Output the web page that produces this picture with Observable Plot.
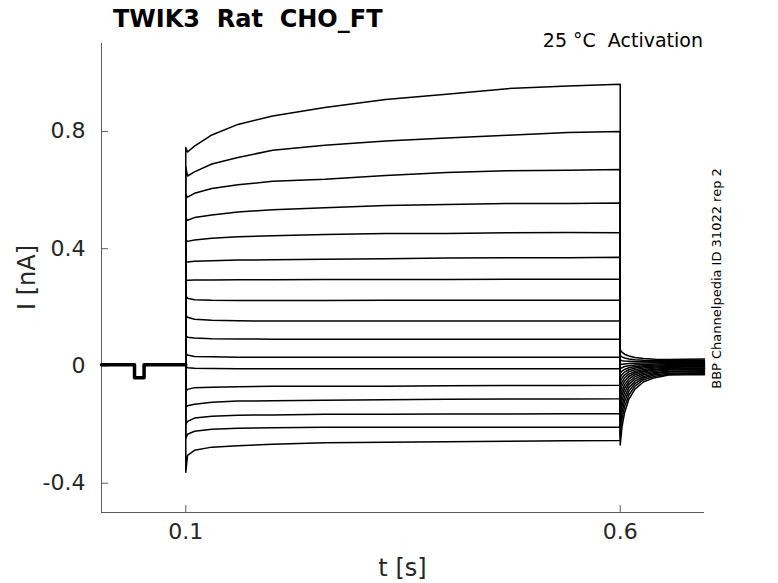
<!DOCTYPE html>
<html><head><meta charset="utf-8">
<script src="https://cdn.jsdelivr.net/npm/d3@7"></script>
<script src="https://cdn.jsdelivr.net/npm/@observablehq/plot@0.6"></script>
<style>body{margin:0;background:#fff} svg{display:block}</style>
</head><body><div id="chart"></div>
<script>
// ---- data ----
const xDomain = [0.003, 0.697];
const yDomain = [-0.5, 1.1];
const xTicks = [0.1, 0.6];
const yTicks = [-0.4, 0, 0.4, 0.8];

// holding segment before the step (shared by all sweeps)
const preT = [0.003, 0.041, 0.041, 0.052, 0.052, 0.1];
const preI = [0.004, 0.004, -0.040, -0.040, 0.004, 0.004];

// step segment sample times and currents per sweep (nA)
const stepT = [0.1, 0.102, 0.11, 0.13, 0.16, 0.2, 0.26, 0.33, 0.4, 0.47, 0.54, 0.6];
const stepI = [
  [0.745, 0.730, 0.750, 0.788, 0.824, 0.853, 0.882, 0.909, 0.927, 0.946, 0.955, 0.961],
  [0.679, 0.648, 0.662, 0.689, 0.711, 0.736, 0.753, 0.767, 0.778, 0.787, 0.796, 0.800],
  [0.585, 0.576, 0.589, 0.605, 0.618, 0.630, 0.637, 0.650, 0.660, 0.666, 0.668, 0.670],
  [0.505, 0.497, 0.506, 0.515, 0.525, 0.533, 0.540, 0.547, 0.551, 0.554, 0.554, 0.556],
  [0.430, 0.425, 0.430, 0.436, 0.441, 0.444, 0.448, 0.452, 0.452, 0.454, 0.455, 0.454],
  [0.356, 0.355, 0.357, 0.359, 0.361, 0.362, 0.364, 0.366, 0.368, 0.369, 0.369, 0.371],
  [0.292, 0.292, 0.293, 0.293, 0.294, 0.294, 0.295, 0.295, 0.295, 0.296, 0.296, 0.296],
  [0.241, 0.231, 0.226, 0.224, 0.223, 0.223, 0.223, 0.224, 0.224, 0.224, 0.224, 0.224],
  [0.173, 0.166, 0.159, 0.156, 0.154, 0.153, 0.153, 0.153, 0.153, 0.153, 0.153, 0.153],
  [0.105, 0.098, 0.095, 0.093, 0.092, 0.091, 0.091, 0.091, 0.091, 0.091, 0.091, 0.091],
  [0.043, 0.037, 0.032, 0.031, 0.030, 0.030, 0.030, 0.030, 0.030, 0.030, 0.030, 0.030],
  [-0.001, -0.006, -0.008, -0.009, -0.010, -0.010, -0.010, -0.010, -0.010, -0.010, -0.010, -0.010],
  [-0.086, -0.080, -0.074, -0.073, -0.071, -0.069, -0.069, -0.069, -0.068, -0.067, -0.067, -0.066],
  [-0.141, -0.136, -0.131, -0.124, -0.120, -0.119, -0.117, -0.115, -0.114, -0.113, -0.113, -0.112],
  [-0.199, -0.189, -0.178, -0.172, -0.168, -0.167, -0.165, -0.165, -0.164, -0.164, -0.163, -0.163],
  [-0.247, -0.233, -0.223, -0.216, -0.213, -0.211, -0.209, -0.209, -0.209, -0.209, -0.209, -0.209],
  [-0.363, -0.305, -0.288, -0.277, -0.272, -0.267, -0.262, -0.260, -0.259, -0.257, -0.255, -0.254]
];

// tail segment after the step
const tailT = [0.6, 0.602, 0.605, 0.61, 0.617, 0.627, 0.64, 0.656, 0.675, 0.697];
const tailI = [
  [-0.270, -0.209, -0.160, -0.113, -0.079, -0.054, -0.040, -0.031, -0.030, -0.030],
  [-0.235, -0.182, -0.139, -0.099, -0.069, -0.047, -0.035, -0.028, -0.027, -0.027],
  [-0.205, -0.159, -0.121, -0.086, -0.060, -0.041, -0.030, -0.025, -0.024, -0.023],
  [-0.178, -0.138, -0.105, -0.074, -0.052, -0.036, -0.026, -0.021, -0.020, -0.020],
  [-0.153, -0.118, -0.090, -0.063, -0.044, -0.030, -0.022, -0.018, -0.017, -0.016],
  [-0.130, -0.100, -0.076, -0.054, -0.037, -0.025, -0.018, -0.014, -0.013, -0.013],
  [-0.110, -0.085, -0.064, -0.045, -0.030, -0.020, -0.014, -0.011, -0.010, -0.010],
  [-0.090, -0.069, -0.052, -0.036, -0.024, -0.016, -0.011, -0.008, -0.007, -0.007],
  [-0.072, -0.055, -0.041, -0.028, -0.019, -0.012, -0.007, -0.005, -0.004, -0.004],
  [-0.055, -0.042, -0.031, -0.020, -0.013, -0.007, -0.004, -0.002, -0.001, -0.001],
  [-0.040, -0.030, -0.021, -0.013, -0.007, -0.003, 0.000, 0.001, 0.002, 0.002],
  [-0.025, -0.018, -0.012, -0.006, -0.002, 0.001, 0.003, 0.004, 0.005, 0.005],
  [-0.010, -0.006, -0.002, 0.001, 0.003, 0.005, 0.007, 0.008, 0.008, 0.008],
  [0.005, 0.006, 0.007, 0.008, 0.009, 0.010, 0.011, 0.011, 0.011, 0.011],
  [0.020, 0.018, 0.017, 0.016, 0.015, 0.014, 0.014, 0.014, 0.015, 0.015],
  [0.035, 0.031, 0.027, 0.024, 0.021, 0.019, 0.018, 0.018, 0.019, 0.019],
  [0.055, 0.047, 0.040, 0.034, 0.029, 0.025, 0.023, 0.022, 0.023, 0.024]
];

const titleText = "TWIK3  Rat  CHO_FT";
const condText = "25 °C  Activation";
const sideText = "BBP Channelpedia ID 31022 rep 2";
const xLabel = "t [s]";
const yLabel = "I [nA]";

// ---- build rows ----
const rows = [];
stepI.forEach((sweep, k) => {
  preT.forEach((t, j) => rows.push({sweep: k, t, i: preI[j]}));
  stepT.forEach((t, j) => rows.push({sweep: k, t, i: sweep[j]}));
  tailT.forEach((t, j) => rows.push({sweep: k, t, i: tailI[k][j]}));
});
const preRows = preT.map((t, j) => ({t, i: preI[j]}));

// ---- layout ----
const W = 778, H = 583, mL = 101, mR = 74, mT = 43, mB = 71;
const plotW = W - mL - mR, plotH = H - mT - mB;
const axisGray = "#5c5c5c", textGray = "#262626";
const font = "DejaVu Sans";

const chart = Plot.plot({
  width: W, height: H,
  marginLeft: mL, marginRight: mR, marginTop: mT, marginBottom: mB,
  style: {fontFamily: font, background: "white", overflow: "visible"},
  x: {domain: xDomain},
  y: {domain: yDomain},
  marks: [
    Plot.ruleX([xDomain[0]], {stroke: axisGray}),
    Plot.ruleY([yDomain[0]], {stroke: axisGray}),
    Plot.tickX(xTicks, {x: d => d, stroke: axisGray, insetTop: plotH - 7}),
    Plot.tickY(yTicks, {y: d => d, stroke: axisGray, insetRight: plotW - 7}),
    Plot.axisX(xTicks, {tickSize: 0, tickPadding: 11, fontSize: 22, color: textGray, label: null, tickFormat: d => String(d)}),
    Plot.axisY(yTicks, {tickSize: 0, tickPadding: 16, fontSize: 22, color: textGray, label: null, tickFormat: d => String(d)}),
    Plot.line(preRows, {x: "t", y: "i", stroke: "black", strokeWidth: 3.5}),
    Plot.line(rows, {x: "t", y: "i", z: "sweep", stroke: "black", strokeWidth: 1.5})
  ]
});

const svg = d3.select(chart);
svg.append("text")
  .attr("x", 113).attr("y", 26.5)
  .attr("font-family", font).attr("font-size", 24).attr("font-weight", "bold")
  .attr("text-anchor", "start")
  .attr("fill", "black").attr("xml:space", "preserve").style("white-space", "pre")
  .text(titleText);
svg.append("text")
  .attr("x", 703).attr("y", 47)
  .attr("font-family", font).attr("font-size", 19).attr("text-anchor", "end")
  .attr("fill", "black").attr("xml:space", "preserve").style("white-space", "pre")
  .text(condText);
svg.append("text")
  .attr("transform", "translate(721,278.5) rotate(-90)")
  .attr("font-family", font).attr("font-size", 13).attr("text-anchor", "middle")
  .attr("fill", "black")
  .text(sideText);
svg.append("text")
  .attr("x", (mL + W - mR) / 2).attr("y", 576)
  .attr("font-family", font).attr("font-size", 24).attr("text-anchor", "middle")
  .attr("fill", textGray)
  .text(xLabel);
svg.append("text")
  .attr("transform", `translate(35,${mT + plotH / 2}) rotate(-90)`)
  .attr("font-family", font).attr("font-size", 24).attr("text-anchor", "middle")
  .attr("fill", textGray)
  .text(yLabel);

document.getElementById("chart").appendChild(chart);
</script>
</body></html>
